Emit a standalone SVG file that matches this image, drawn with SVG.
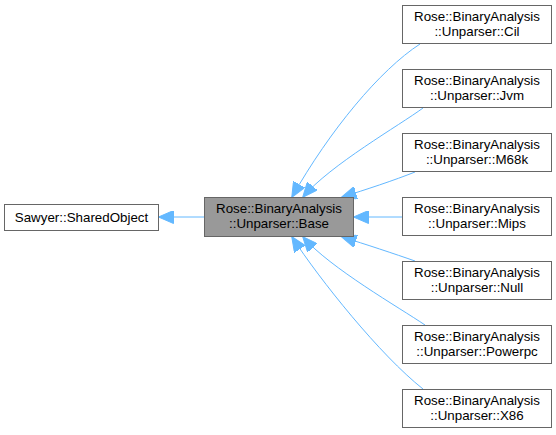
<svg xmlns="http://www.w3.org/2000/svg" width="556" height="435" viewBox="0 0 556 435">
<style>
.box{fill:#ffffff;stroke:#666666;stroke-width:1}
.base{fill:#999999;stroke:#666666;stroke-width:1}
text{font-family:"Liberation Sans",Arial,sans-serif;font-size:13.33px;fill:#000000;text-anchor:middle}
.edge{fill:none;stroke:#63b8ff;stroke-width:1;marker-end:url(#ah)}
</style>
<defs>
<marker id="ah" markerUnits="userSpaceOnUse" viewBox="0 0 15 13" markerWidth="15" markerHeight="13" refX="14.5" refY="6.5" orient="auto">
<path d="M0,0 L15,6.5 L0,13 z" fill="#63b8ff" stroke="#63b8ff"/>
</marker>
</defs>
<g id="edges">
<path class="edge" d="M204,217 L159,217"/>
<path class="edge" d="M420,44 C380,70 330,130 292,197"/>
<path class="edge" d="M423,108 C400,125 330,165 303,197"/>
<path class="edge" d="M415,172 C395,180 365,190 342,197"/>
<path class="edge" d="M402,217 L354,217"/>
<path class="edge" d="M415,261 C395,254 365,244 342,237"/>
<path class="edge" d="M425,325 C400,308 330,268 303,237"/>
<path class="edge" d="M423,389 C380,355 320,280 292,237"/>
</g>
<g id="sawyer">
<rect class="box" x="4.5" y="204.5" width="154" height="26"/>
<text x="81.5" y="222">Sawyer::SharedObject</text>
</g>
<g id="base">
<rect class="base" x="204.5" y="197.5" width="149" height="39"/>
<text x="279" y="213">Rose::BinaryAnalysis</text>
<text x="279" y="228">::Unparser::Base</text>
</g>
<g id="cil">
<rect class="box" x="402.5" y="5.5" width="149" height="38"/>
<text x="477" y="21">Rose::BinaryAnalysis</text>
<text x="477" y="36">::Unparser::Cil</text>
</g>
<g id="jvm">
<rect class="box" x="402.5" y="69.5" width="149" height="38"/>
<text x="477" y="85">Rose::BinaryAnalysis</text>
<text x="477" y="100">::Unparser::Jvm</text>
</g>
<g id="m68k">
<rect class="box" x="402.5" y="133.5" width="149" height="38"/>
<text x="477" y="149">Rose::BinaryAnalysis</text>
<text x="477" y="164">::Unparser::M68k</text>
</g>
<g id="mips">
<rect class="box" x="402.5" y="197.5" width="149" height="38"/>
<text x="477" y="213">Rose::BinaryAnalysis</text>
<text x="477" y="228">::Unparser::Mips</text>
</g>
<g id="null">
<rect class="box" x="402.5" y="261.5" width="149" height="38"/>
<text x="477" y="277">Rose::BinaryAnalysis</text>
<text x="477" y="292">::Unparser::Null</text>
</g>
<g id="powerpc">
<rect class="box" x="402.5" y="325.5" width="149" height="38"/>
<text x="477" y="341">Rose::BinaryAnalysis</text>
<text x="477" y="356">::Unparser::Powerpc</text>
</g>
<g id="x86">
<rect class="box" x="402.5" y="389.5" width="149" height="38"/>
<text x="477" y="405">Rose::BinaryAnalysis</text>
<text x="477" y="420">::Unparser::X86</text>
</g>
</svg>
